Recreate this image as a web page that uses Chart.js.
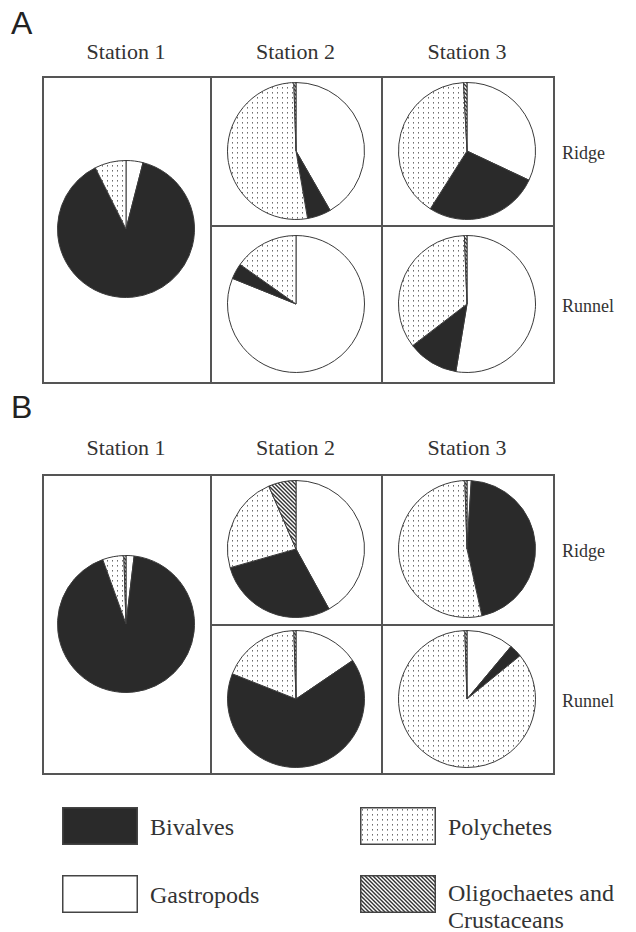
<!DOCTYPE html>
<html><head><meta charset="utf-8">
<script src="https://cdn.jsdelivr.net/npm/chart.js@4.4.1/dist/chart.umd.min.js"></script>
<style>
html,body{margin:0;padding:0;background:#fff}
body{width:636px;height:932px;position:relative;overflow:hidden;color:#333}
.t{position:absolute;white-space:nowrap;font-size:19px;line-height:1;font-family:"Liberation Serif","DejaVu Serif",serif;font-weight:normal}
.c{transform:translate(-50%,-50%)}
.l{transform:translateY(-50%)}
.letter{position:absolute;font-family:"Liberation Sans",Arial,sans-serif;font-size:32px;line-height:1;color:#222;transform:translateY(-50%)}
.ln{position:absolute;background:#555}
canvas{position:absolute;display:block}
</style></head><body>
<script>
// ---- data (percent of individuals), slice order follows `categories` (clockwise from 12 o'clock)
const categories = ['Gastropods','Bivalves','Polychetes','Oligochaetes and Crustaceans'];
const legendOrder = ['Bivalves','Polychetes','Gastropods','Oligochaetes and Crustaceans'];
const stations = ['Station 1','Station 2','Station 3'];
const habitats = ['Ridge','Runnel'];
const panelLetters = ['A','B'];

const A_station1        = [4.0, 88.6, 7.4, 0];
const A_station2_ridge  = [41.7, 5.6, 52.2, 0.5];
const A_station3_ridge  = [32.0, 27.0, 40.2, 0.8];
const A_station2_runnel = [81.1, 3.7, 15.2, 0];
const A_station3_runnel = [52.6, 12.0, 34.8, 0.6];

const B_station1        = [1.9, 92.6, 5.0, 0.5];
const B_station2_ridge  = [42.0, 28.6, 22.9, 6.5];
const B_station3_ridge  = [1.0, 45.5, 53.0, 0.5];
const B_station2_runnel = [15.5, 65.5, 18.5, 0.5];
const B_station3_runnel = [11.1, 3.0, 85.4, 0.5];

// ---- fills
const BLACK = '#2a2a2a';
const WHITE = '#ffffff';
function makeDots(){
  const c=document.createElement('canvas'); c.width=5; c.height=5;
  const x=c.getContext('2d'); x.fillStyle='#fff'; x.fillRect(0,0,5,5);
  x.fillStyle='#6e6e6e'; x.fillRect(2,2,1,1);
  x.fillStyle='#aaaaaa'; x.fillRect(2,3,1,1);
  return x.createPattern(c,'repeat');
}
function makeHatch(){
  const c=document.createElement('canvas'); c.width=4; c.height=4;
  const x=c.getContext('2d'); x.fillStyle='#fff'; x.fillRect(0,0,4,4);
  x.strokeStyle='#333'; x.lineWidth=1.4;
  x.beginPath(); x.moveTo(-1,-1); x.lineTo(5,5); x.moveTo(-1,3); x.lineTo(1,5); x.moveTo(3,-1); x.lineTo(5,1); x.stroke();
  return x.createPattern(c,'repeat');
}
const DOTS=makeDots(), HATCH=makeHatch();
const fillFor={ 'Gastropods':WHITE, 'Bivalves':BLACK, 'Polychetes':DOTS, 'Oligochaetes and Crustaceans':HATCH };

// ---- helpers
function text(str, x, y, cls, size){
  const d=document.createElement('div'); d.className='t '+cls; d.textContent=str;
  d.style.left=x+'px'; d.style.top=y+'px'; if(size) d.style.fontSize=size+'px';
  document.body.appendChild(d); return d;
}
function line(x,y,w,h){
  const d=document.createElement('div'); d.className='ln';
  d.style.left=x+'px'; d.style.top=y+'px'; d.style.width=w+'px'; d.style.height=h+'px';
  document.body.appendChild(d);
}
function pie(values, cx, cy){
  const S=142;
  const c=document.createElement('canvas'); c.width=S; c.height=S;
  c.style.left=(cx-S/2)+'px'; c.style.top=(cy-S/2)+'px'; c.style.width=S+'px'; c.style.height=S+'px';
  document.body.appendChild(c);
  new Chart(c,{
    type:'pie',
    data:{labels:categories, datasets:[{data:values, backgroundColor:categories.map(k=>fillFor[k]), borderColor:'#3a3a3a', borderWidth:1}]},
    options:{responsive:false, animation:false, devicePixelRatio:1, events:[],
      layout:{padding:2},
      plugins:{legend:{display:false}, tooltip:{enabled:false}}}
  });
}
function panel(letter, letterY, headerY, top, mid, bottom, d){
  const L=42, R=553, X1=210, X2=381;
  const el=document.createElement('div'); el.className='letter'; el.textContent=letter;
  el.style.left='11px'; el.style.top=letterY+'px'; document.body.appendChild(el);
  text(stations[0], (L+X1)/2, headerY, 'c', 22);
  text(stations[1], (X1+X2)/2, headerY, 'c', 22);
  text(stations[2], (X2+R)/2, headerY, 'c', 22);
  const w=1.5;
  line(L, top, R-L, w); line(L, bottom, R-L+w, w);
  line(L, top, w, bottom-top); line(R, top, w, bottom-top);
  line(X1, top, w, bottom-top); line(X2, top, w, bottom-top);
  line(X1, mid, R-X1, w);
  text(habitats[0], 562, (top+mid)/2+2, 'l', 18);
  text(habitats[1], 562, (mid+bottom)/2+2, 'l', 18);
  const ry=(top+mid)/2, uy=(mid+bottom)/2, cy=(top+bottom)/2;
  pie(d[0], (L+X1)/2, cy);
  pie(d[1], (X1+X2)/2, ry);
  pie(d[2], (X2+R)/2, ry);
  pie(d[3], (X1+X2)/2, uy);
  pie(d[4], (X2+R)/2, uy);
}
panel(panelLetters[0], 23, 52, 76, 225, 382,
  [A_station1, A_station2_ridge, A_station3_ridge, A_station2_runnel, A_station3_runnel]);
panel(panelLetters[1], 407, 448, 474, 624, 773,
  [B_station1, B_station2_ridge, B_station3_ridge, B_station2_runnel, B_station3_runnel]);

// ---- legend
function legendBox(name, x, y){
  const W=76,H=38;
  const c=document.createElement('canvas'); c.width=W; c.height=H;
  c.style.left=x+'px'; c.style.top=y+'px';
  document.body.appendChild(c);
  const g=c.getContext('2d');
  g.fillStyle=fillFor[name]; g.fillRect(0,0,W,H);
  g.strokeStyle='#444'; g.lineWidth=1.5; g.strokeRect(0.75,0.75,W-1.5,H-1.5);
}
const legPos={
  'Bivalves':[62,807,827],
  'Polychetes':[360,807,827],
  'Gastropods':[62,875,895],
  'Oligochaetes and Crustaceans':[360,875,893]
};
legendOrder.forEach(n=>{
  const p=legPos[n];
  legendBox(n,p[0],p[1]);
  if(n==='Oligochaetes and Crustaceans'){
    text('Oligochaetes and', p[0]+88, p[2], 'l', 24);
    text('Crustaceans', p[0]+88, p[2]+27, 'l', 24);
  } else {
    text(n, p[0]+88, p[2], 'l', 24);
  }
});
</script>
</body></html>
